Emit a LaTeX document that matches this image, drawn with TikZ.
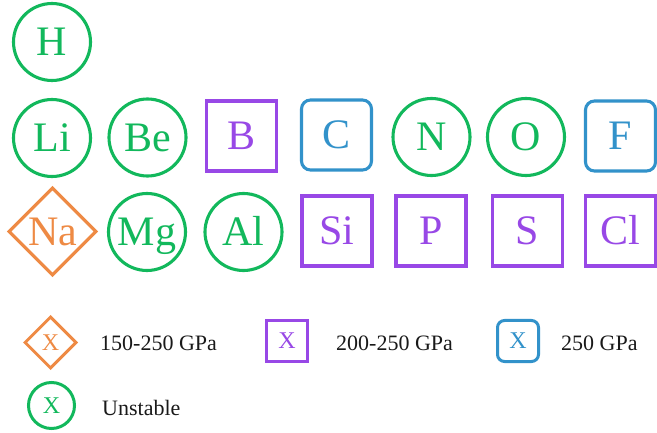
\documentclass[tikz,border=0pt]{standalone}
\usepackage{fontspec}
\setmainfont{Liberation Serif}
\usetikzlibrary{shapes.geometric}
\definecolor{cgreen}{RGB}{18,184,92}
\definecolor{cpurple}{RGB}{152,72,230}
\definecolor{cblue}{RGB}{50,146,202}
\definecolor{corange}{RGB}{238,138,68}
\begin{document}
\begin{tikzpicture}[x=1pt,y=-1pt,
  el/.style={inner sep=0pt,line width=3.1pt,font=\fontsize{42}{42}\selectfont,
    text height=27.8pt,text depth=0pt},
  unst/.style={el,circle,draw=cgreen,text=cgreen,minimum size=77pt},
  sqp/.style={el,rectangle,draw=cpurple,text=cpurple,minimum size=70pt},
  rnb/.style={el,rectangle,rounded corners=9pt,draw=cblue,text=cblue,minimum size=70pt},
  dmo/.style={el,diamond,aspect=1,draw=corange,text=corange,minimum size=88pt},
  lg/.style={inner sep=0pt,line width=3pt,font=\fontsize{24}{24}\selectfont,
    text height=15.9pt,text depth=0pt},
  lgtext/.style={anchor=base west,inner sep=0pt,text=black!90,font=\fontsize{22}{22}\selectfont}]
\useasboundingbox (0,0) rectangle (657,433);
% row 1
\node[unst] (H) at (52,42) {H};
% row 2
\node[unst] (Li) at (52,138) {Li};
\node[unst] (Be) at (147.5,137.5) {Be};
\node[sqp] (B) at (241.5,136) {B};
\node[rnb] (C) at (336.5,135) {C};
\node[unst] (N) at (431.5,137) {N};
\node[unst] (O) at (526,137) {O};
\node[rnb] (F) at (620.5,136) {F};
% row 3
\node[dmo] (Na) at (52.5,231.5) {Na};
\node[unst] (Mg) at (147,232) {Mg};
\node[unst] (Al) at (243.5,232) {Al};
\node[sqp] (Si) at (337,231) {Si};
\node[sqp] (P) at (431,231) {P};
\node[sqp] (S) at (527.5,231) {S};
\node[sqp] (Cl) at (620.5,231) {Cl};
% legend
\node[lg,diamond,aspect=1,draw=corange,text=corange,minimum size=52pt] (L1) at (50.5,342.5) {X};
\node[lgtext] (T1) at (100,350.5) {150-250 GPa};
\node[lg,rectangle,draw=cpurple,text=cpurple,minimum size=41pt] (L2) at (287,341) {X};
\node[lgtext] (T2) at (336,350.5) {200-250 GPa};
\node[lg,rectangle,rounded corners=7pt,draw=cblue,text=cblue,minimum size=41pt] (L3) at (518,341) {X};
\node[lgtext] (T3) at (561,350.5) {250 GPa};
\node[lg,circle,draw=cgreen,text=cgreen,minimum size=46pt] (L4) at (51.5,405.5) {X};
\node[lgtext] (T4) at (102,415) {Unstable};
\end{tikzpicture}
\end{document}
